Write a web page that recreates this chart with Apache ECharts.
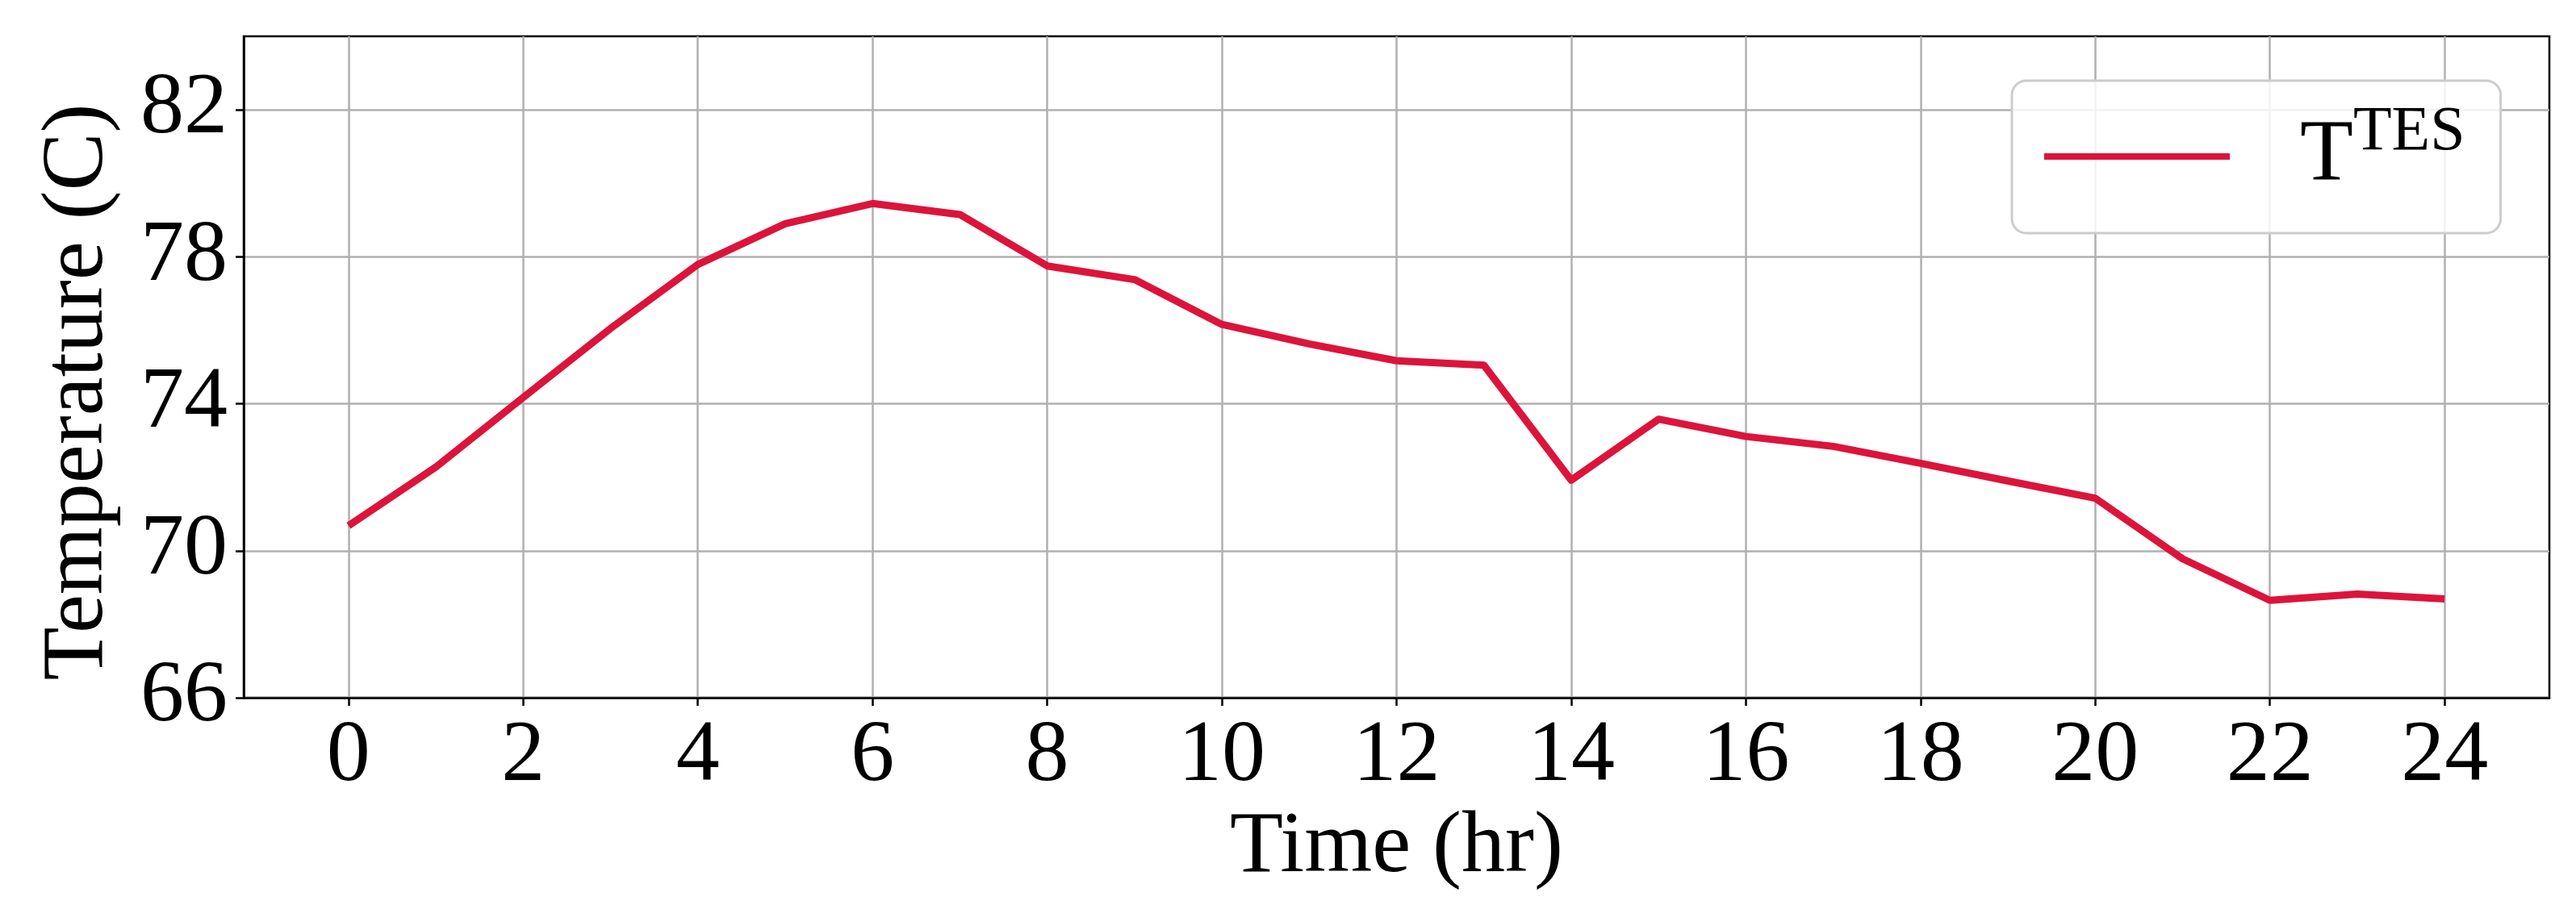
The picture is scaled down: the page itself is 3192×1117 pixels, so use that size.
<!DOCTYPE html>
<html lang="en">
<head>
    <meta charset="UTF-8">
    <title>Temperature</title>
    <style>
        body { margin: 0; background: #fff; }
        #chart { width: 3192px; height: 1117px; }
    </style>
    <script src="https://cdn.jsdelivr.net/npm/echarts@6/dist/echarts.min.js"></script>
</head>
<body>
    <div id="chart"></div>
    <script>
        // hourly values
        const hours = [0, 1, 2, 3, 4, 5, 6, 7, 8, 9, 10, 11, 12, 13, 14, 15, 16, 17, 18, 19, 20, 21, 22, 23, 24];
        const tesTemp = [70.68, 72.28, 74.17, 76.05, 77.79, 78.9, 79.45, 79.15, 77.75, 77.38, 76.16, 75.63,
                         75.17, 75.05, 71.92, 73.58, 73.11, 72.84, 72.38, 71.9, 71.43, 69.78, 68.65, 68.82, 68.69];
        const xTicks = [0, 2, 4, 6, 8, 10, 12, 14, 16, 18, 20, 22, 24];
        const yTicks = [66, 70, 74, 78, 82];

        const FONT = '"Liberation Serif", "DejaVu Serif", serif';
        const RED = '#dc143c';
        const GRID_C = '#b0b0b0';

        const chart = echarts.init(document.getElementById('chart'));

        const option = {
            animation: false,
            backgroundColor: '#fff',
            grid: {
                left: 302, right: 33, top: 45, bottom: 252,
                show: true, borderColor: '#000', borderWidth: 2.5
            },
            legend: {
                left: 2493, top: 100,
                icon: 'rect',
                itemWidth: 230, itemHeight: 8,
                padding: [26, 44, 27, 40],
                borderColor: '#cccccc', borderWidth: 3, borderRadius: 18,
                backgroundColor: 'rgba(255,255,255,0.85)',
                formatter: () => '{a|T}{b|TES}',
                textStyle: {
                    rich: {
                        a: { fontFamily: FONT, fontSize: 108, lineHeight: 116, color: '#000', padding: [0, 0, 0, 82] },
                        // superscript: bottom padding lifts the text
                        b: { fontFamily: FONT, fontSize: 78, lineHeight: 40, color: '#000', padding: [0, 0, 58, 0] }
                    }
                }
            },
            xAxis: {
                type: 'value',
                min: -1.2, max: 25.2,
                name: 'Time (hr)',
                nameLocation: 'middle',
                nameGap: 118,
                nameTextStyle: { fontFamily: FONT, fontSize: 108, color: '#000' },
                axisLine: { show: true, onZero: false, lineStyle: { color: '#000', width: 2.5 } },
                axisTick: { show: true, length: 10, customValues: xTicks, lineStyle: { color: '#000', width: 2.5 } },
                axisLabel: { customValues: xTicks, margin: 20, fontFamily: FONT, fontSize: 108, color: '#000' },
                splitLine: { show: true, lineStyle: { color: GRID_C, width: 2.5 } }
            },
            yAxis: {
                type: 'value',
                min: 66, max: 84,
                name: 'Temperature (C)',
                nameLocation: 'middle',
                nameGap: 150,
                nameTextStyle: { fontFamily: FONT, fontSize: 108, color: '#000', padding: [0, 62, 0, 0] },
                axisLine: { show: true, onZero: false, lineStyle: { color: '#000', width: 2.5 } },
                axisTick: { show: true, length: 10, customValues: yTicks, lineStyle: { color: '#000', width: 2.5 } },
                axisLabel: { customValues: yTicks, margin: 20, fontFamily: FONT, fontSize: 108, color: '#000' },
                splitLine: { show: true, lineStyle: { color: GRID_C, width: 2.5 } }
            },
            series: [{
                name: 'TES',
                type: 'line',
                data: hours.map((h, i) => [h, tesTemp[i]]),
                showSymbol: false,
                color: RED,
                lineStyle: { color: RED, width: 9, join: 'round' }
            }]
        };

        chart.setOption(option);
    </script>
</body>
</html>
